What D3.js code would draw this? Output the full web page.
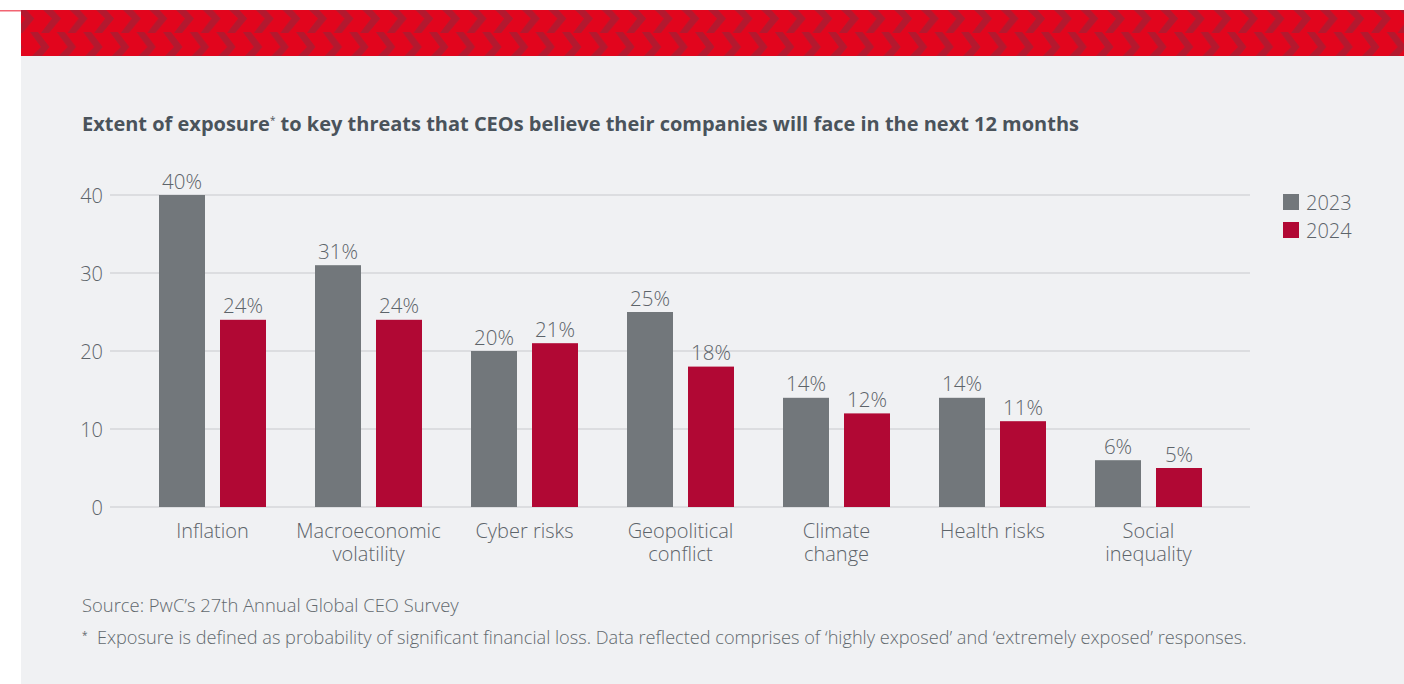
<!DOCTYPE html>
<html>
<head>
<meta charset="utf-8">
<script src="https://cdn.jsdelivr.net/npm/d3@7/dist/d3.min.js"></script>
<style>
  html, body { margin: 0; padding: 0; background: #ffffff; }
  svg { display: block; }
  text { font-family: "Open Sans", "Noto Sans", sans-serif; }
</style>
</head>
<body>
<svg id="chart" width="1404" height="684"></svg>
<script>
// ---- data ----
const categories = [
  ["Inflation"],
  ["Macroeconomic", "volatility"],
  ["Cyber risks"],
  ["Geopolitical", "conflict"],
  ["Climate", "change"],
  ["Health risks"],
  ["Social", "inequality"]
];
const seriesNames = ["2023", "2024"];
const values2023 = [40, 31, 20, 25, 14, 14, 6];
const values2024 = [24, 24, 21, 18, 12, 11, 5];
const yTicks = [0, 10, 20, 30, 40];
const titleText = "Extent of exposure";
const titleRest = " to key threats that CEOs believe their companies will face in the next 12 months";
const sourceText = "Source: PwC\u2019s 27th Annual Global CEO Survey";
const noteText = "Exposure is defined as probability of significant financial loss. Data reflected comprises of \u2018highly exposed\u2019 and \u2018extremely exposed\u2019 responses.";

const colors = { "2023": "#72777b", "2024": "#b10834" };
const textColor = "#5d646a";
const textWeight = 350;

const svg = d3.select("#chart");

// ---- panel & header ----
svg.append("rect").attr("x", 21).attr("y", 56).attr("width", 1383).attr("height", 628).attr("fill", "#f0f1f3");
svg.append("rect").attr("x", 0).attr("y", 10).attr("width", 21).attr("height", 1.5).attr("fill", "#f26472");

const defs = svg.append("defs");
const pat = defs.append("pattern").attr("id", "chev").attr("patternUnits", "userSpaceOnUse")
  .attr("x", 43).attr("y", 10).attr("width", 26.6).attr("height", 46);
pat.append("rect").attr("width", 26.6).attr("height", 46).attr("fill", "#e2051d");
const dark = "#b3192f";
function chevTop(dx) {
  return [[0,0],[10,0],[18,8.5],[6,23],[-2,23],[9,8.5]].map(p => [p[0]+dx, p[1]]);
}
function chevBot(dx) {
  return [[-2,22],[6,22],[17.5,37],[10,46],[0,46],[9,37]].map(p => [p[0]+dx, p[1]]);
}
[-26.6, 0, 26.6].forEach(dx => {
  pat.append("polygon").attr("points", chevTop(dx).join(" ")).attr("fill", dark);
  pat.append("polygon").attr("points", chevBot(dx - 11).join(" ")).attr("fill", dark);
});
svg.append("rect").attr("x", 21).attr("y", 10).attr("width", 1383).attr("height", 46).attr("fill", "url(#chev)");

// ---- title ----
const title = svg.append("text").attr("x", 82).attr("y", 131)
  .attr("fill", "#4a535b").attr("font-weight", 700).attr("font-size", 18);
title.append("tspan").text(titleText);
title.append("tspan").attr("font-size", 10).attr("dy", -7).attr("font-weight", 400).text("*");
title.append("tspan").attr("dy", 7).text(titleRest);
(function fit() {
  const w = title.node().getBBox().width;
  if (w > 0) {
    const s = 18 * 998 / w;
    title.attr("font-size", Math.max(15, Math.min(21, s)));
  }
})();

// ---- scales ----
const y = d3.scaleLinear().domain([0, 40]).range([507, 195]);
const x0 = d3.scaleBand().domain(d3.range(categories.length)).range([134.5, 1226.5]).paddingInner(0).paddingOuter(0);
const x1 = d3.scaleBand().domain(seriesNames).range([24.5, 131.5]).paddingInner(15/61).paddingOuter(0);

// gridlines
svg.append("g").selectAll("line").data(yTicks).join("line")
  .attr("x1", 110).attr("x2", 1250)
  .attr("y1", d => y(d)).attr("y2", d => y(d))
  .attr("stroke", "#c8cacd").attr("stroke-width", 1.2);

// y axis labels
const yAxis = d3.axisLeft(y).tickValues(yTicks).tickSize(0).tickPadding(0);
const yg = svg.append("g").attr("transform", "translate(103,0)").call(yAxis);
yg.select(".domain").remove();
yg.selectAll("text").attr("font-size", 20).attr("fill", textColor).attr("font-family", "'Open Sans', sans-serif").attr("font-weight", textWeight).attr("dy", "0.35em");

// bars
const rows = categories.map((c, i) => ({ i, vals: [
  { key: "2023", v: values2023[i] }, { key: "2024", v: values2024[i] }] }));
const groups = svg.append("g").selectAll("g").data(rows).join("g")
  .attr("transform", d => `translate(${x0(d.i)},0)`);
groups.selectAll("rect").data(d => d.vals).join("rect")
  .attr("x", d => x1(d.key)).attr("width", x1.bandwidth())
  .attr("y", d => y(d.v)).attr("height", d => y(0) - y(d.v))
  .attr("fill", d => colors[d.key]);
groups.selectAll("text.val").data(d => d.vals).join("text").attr("class", "val")
  .attr("x", d => x1(d.key) + x1.bandwidth() / 2).attr("y", d => y(d.v) - 6.5)
  .attr("text-anchor", "middle").attr("font-size", 20.5).attr("font-weight", textWeight)
  .attr("fill", textColor).text(d => d.v + "%");

// category labels
const xAxis = svg.append("g");
categories.forEach((lines, i) => {
  const cx = x0(i) + x0.bandwidth() / 2;
  const t = xAxis.append("text").attr("x", cx).attr("y", 538)
    .attr("text-anchor", "middle").attr("font-size", 20).attr("font-weight", textWeight).attr("fill", textColor);
  lines.forEach((l, j) => t.append("tspan").attr("x", cx).attr("dy", j === 0 ? 0 : 22.5).text(l));
});

// legend
const lg = svg.append("g").attr("transform", "translate(1283,194)");
seriesNames.forEach((s, i) => {
  lg.append("rect").attr("x", 0).attr("y", i * 28).attr("width", 16).attr("height", 16).attr("fill", colors[s]);
  lg.append("text").attr("x", 23).attr("y", i * 28 + 15.5).attr("font-size", 20).attr("font-weight", textWeight)
    .attr("fill", textColor).text(s);
});

// source & footnote
const src = svg.append("text").attr("x", 82).attr("y", 612).attr("font-size", 15).attr("font-weight", textWeight)
  .attr("fill", "#62696e").text(sourceText);
(function(){ const w = src.node().getComputedTextLength(); if (w > 0) src.attr("font-size", 15 * 377 / w); })();
svg.append("text").attr("x", 82).attr("y", 639).attr("font-size", 10).attr("fill", "#62696e").text("*");
const note = svg.append("text").attr("x", 97).attr("y", 644).attr("font-size", 15).attr("font-weight", textWeight)
  .attr("fill", "#62696e").text(noteText);
(function(){ const w = note.node().getComputedTextLength(); if (w > 0) note.attr("font-size", 15 * 1151 / w); })();
</script>
</body>
</html>
